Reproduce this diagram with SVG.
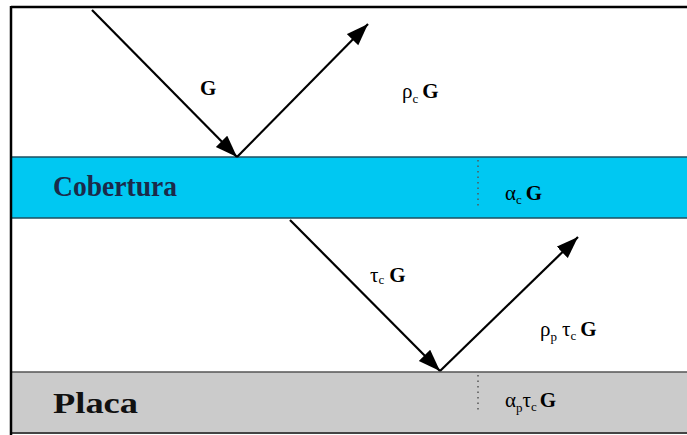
<svg xmlns="http://www.w3.org/2000/svg" width="687" height="435" viewBox="0 0 687 435">
<style>
.lbl{font-family:"Liberation Serif","Times New Roman",serif;font-size:21px;fill:#000}
.b{font-weight:bold}
.sub{font-size:13px}
.layer{font-family:"Liberation Serif","Times New Roman",serif;font-weight:bold;font-size:29px}
.ray{stroke:#000;stroke-width:2.2;fill:none;marker-end:url(#ah)}
.dot{stroke:#555;stroke-width:1.5;stroke-dasharray:1.5,4}
</style>
<defs>
<marker id="ah" markerUnits="userSpaceOnUse" markerWidth="24" markerHeight="18" refX="22" refY="8" orient="auto">
<path d="M0,0 L22,8 L0,16 Z" fill="#000"/>
</marker>
</defs>
<rect width="687" height="435" fill="#fff"/>
<g id="cobertura">
<rect x="11" y="157" width="676" height="61" fill="#00c8f2"/>
<line x1="11" y1="157" x2="687" y2="157" stroke="#1d4f60" stroke-width="1.5"/>
<line x1="11" y1="218" x2="687" y2="218" stroke="#1d4f60" stroke-width="1.5"/>
<text class="layer" x="53" y="196" fill="#1b2a4a" textLength="124" lengthAdjust="spacingAndGlyphs">Cobertura</text>
<line class="dot" x1="478" y1="160" x2="478" y2="206"/>
<text class="lbl" x="505" y="200">α<tspan class="sub" dy="4">c</tspan><tspan class="b" dx="4" dy="-4">G</tspan></text>
</g>
<g id="placa">
<rect x="11" y="372" width="676" height="61" fill="#cbcbcb"/>
<line x1="11" y1="372" x2="687" y2="372" stroke="#555" stroke-width="1.5"/>
<line x1="11" y1="433" x2="687" y2="433" stroke="#444" stroke-width="2"/>
<text class="layer" x="53" y="413" fill="#111" textLength="85" lengthAdjust="spacingAndGlyphs">Placa</text>
<line class="dot" x1="478" y1="375" x2="478" y2="411"/>
<text class="lbl" x="505" y="407">α<tspan class="sub" dy="5">p</tspan><tspan dy="-5">τ</tspan><tspan class="sub" dy="4">c</tspan><tspan class="b" dx="3" dy="-4">G</tspan></text>
</g>
<g id="frame">
<line x1="11" y1="7" x2="687" y2="7" stroke="#000" stroke-width="2.5"/>
<line x1="11" y1="6" x2="11" y2="435" stroke="#000" stroke-width="2.5"/>
</g>
<g id="connectors">
<line class="ray" x1="92" y1="10" x2="237" y2="157"/>
<line class="ray" x1="237" y1="157" x2="368" y2="24"/>
<line class="ray" x1="290" y1="220" x2="440" y2="371"/>
<line class="ray" x1="440" y1="371" x2="578" y2="237"/>
</g>
<g id="labels">
<text class="lbl b" x="200" y="95">G</text>
<text class="lbl" x="402" y="98">ρ<tspan class="sub" dy="5">c</tspan><tspan class="b" dx="4" dy="-5">G</tspan></text>
<text class="lbl" x="370" y="282">τ<tspan class="sub" dy="2">c</tspan><tspan class="b" dx="5" dy="-2">G</tspan></text>
<text class="lbl" x="540" y="336">ρ<tspan class="sub" dy="5">p</tspan><tspan dx="5" dy="-5">τ</tspan><tspan class="sub" dy="4">c</tspan><tspan class="b" dx="4" dy="-4">G</tspan></text>
</g>
</svg>
